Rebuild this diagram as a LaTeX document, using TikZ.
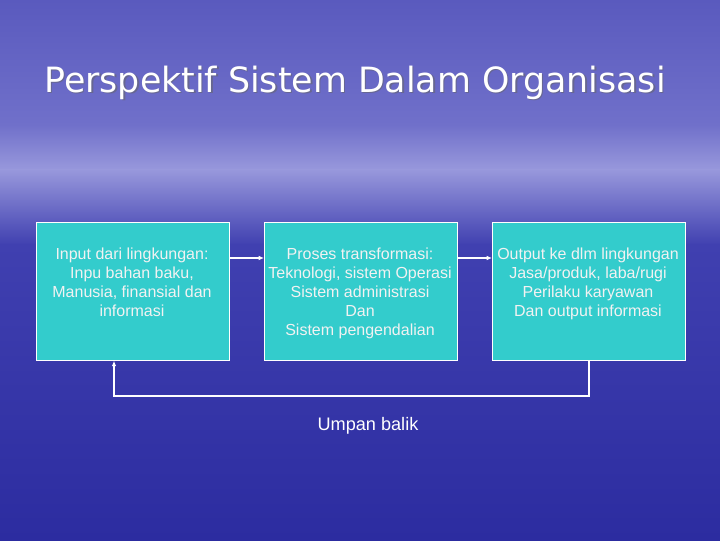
\documentclass[tikz,border=0pt]{standalone}
\usepackage{fontspec}
\setmainfont{Liberation Sans}
\newfontfamily\titlefont{DejaVu Sans}
\usetikzlibrary{arrows.meta,calc}
\definecolor{boxfill}{HTML}{33CCCC}
\definecolor{bgtop}{HTML}{5A5ABE}
\definecolor{bgup}{HTML}{7070CA}
\definecolor{bghor}{HTML}{9898DC}
\definecolor{bgmid}{HTML}{4040B0}
\definecolor{bgbot}{HTML}{2C2CA0}
\definecolor{txt}{HTML}{F2F2F2}
\begin{document}
\begin{tikzpicture}[x=0.75pt,y=-0.75pt,
  blk/.style={draw=white,line width=0.6pt,fill=boxfill,minimum width=144.75pt,minimum height=103.5pt,anchor=north west,inner sep=0pt},
  blktext/.style={text=txt,align=center,font=\fontsize{12}{14.2}\selectfont,anchor=north},
  conn/.style={draw=white,line width=0.9pt,-{Latex[length=4pt,width=3.5pt]}}]
\useasboundingbox (0,0) rectangle (720,540);
% background
\shade[top color=bgtop,bottom color=bgup] (0,0) rectangle (720,125);
\shade[top color=bgup,bottom color=bghor] (0,124.5) rectangle (720,170);
\shade[top color=bghor,bottom color=bgmid] (0,169.5) rectangle (720,245);
\shade[top color=bgmid,bottom color=bgbot] (0,244.5) rectangle (720,540);
% title
\node[text=black!60,opacity=0.55,font=\titlefont\fontsize{26.1}{30}\selectfont,anchor=base] at (356.5,93.5) {Perspektif Sistem Dalam Organisasi};
\node[text=white,font=\titlefont\fontsize{26.1}{30}\selectfont,anchor=base] (title) at (355,92) {Perspektif Sistem Dalam Organisasi};
% boxes
\node[blk] (b1) at (36,222) {};
\node[blk] (b2) at (264,222) {};
\node[blk] (b3) at (492,222) {};
\node[blktext] (t1) at (132,243) {Input dari lingkungan:\\Inpu bahan baku,\\Manusia, finansial dan\\informasi};
\node[blktext] (t2) at (360,243) {Proses transformasi:\\Teknologi, sistem Operasi\\Sistem administrasi\\Dan\\Sistem pengendalian};
\node[blktext] (t3) at (588,243) {Output ke dlm lingkungan\\Jasa/produk, laba/rugi\\Perilaku karyawan\\Dan output informasi};
% connectors
\draw[conn] (b1.east |- 0,258) -- (b2.west |- 0,258);
\draw[conn] (b2.east |- 0,258) -- (b3.west |- 0,258);
\coordinate (c1) at (589,396);
\coordinate (c2) at (114,396);
\draw[conn] (b3.south -| c1) -- (c1) -- (c2) -- (b1.south -| c2);
\node[text=white,font=\fontsize{13.6}{15}\selectfont] (ub) at (368,426) {Umpan balik};
\end{tikzpicture}
\end{document}
